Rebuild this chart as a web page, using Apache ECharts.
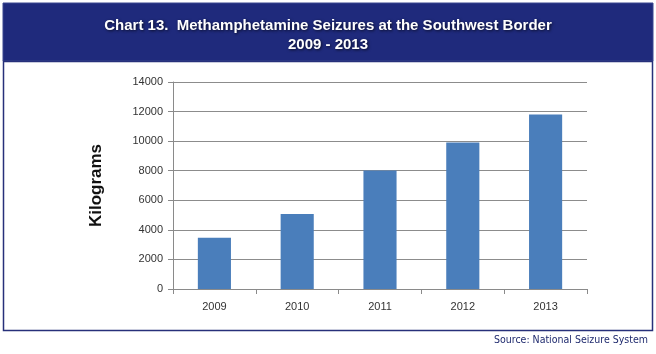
<!DOCTYPE html>
<html>
<head>
<meta charset="utf-8">
<script src="https://cdn.jsdelivr.net/npm/echarts@6/dist/echarts.min.js"></script>
<style>
  html, body { margin: 0; padding: 0; background: #fff; }
  #chart { width: 656px; height: 354px; }
</style>
</head>
<body>
<div id="chart"></div>
<script>
var years = ['2009', '2010', '2011', '2012', '2013'];
var seizures = [3470, 5070, 8020, 9900, 11800];
var yTicks = [0, 2000, 4000, 6000, 8000, 10000, 12000, 14000];

var chart = echarts.init(document.getElementById('chart'));

var option = {
  animation: false,
  backgroundColor: '#ffffff',
  graphic: [
    // navy header band
    { type: 'rect', shape: { x: 3, y: 3, width: 650, height: 58 },
      style: { fill: '#1f2a7c', stroke: '#3b4690', lineWidth: 1 }, z: -1 },
    // outline of chart box
    { type: 'rect', shape: { x: 3.5, y: 61.5, width: 649, height: 269 },
      style: { fill: 'none', stroke: '#27307a', lineWidth: 1.5 }, z: -1 },
    { type: 'text', right: 8, top: 335,
      style: { text: 'Source: National Seizure System', fill: '#1f2a6e',
        font: '10.5px "DejaVu Sans Condensed", "Liberation Sans Narrow", sans-serif' } }
  ],
  title: {
    text: 'Chart 13.  Methamphetamine Seizures at the Southwest Border\n2009 - 2013',
    left: 'center',
    top: 11,
    textStyle: {
      color: '#ffffff',
      fontFamily: '"Liberation Sans", Arial, sans-serif',
      fontWeight: 'bold',
      fontSize: 15,
      lineHeight: 19,
      textShadowColor: 'rgba(0,0,0,0.7)',
      textShadowBlur: 3,
      textShadowOffsetX: 1,
      textShadowOffsetY: 1
    }
  },
  grid: { left: 173, right: 69, top: 82, bottom: 65 },
  xAxis: {
    type: 'category',
    data: years,
    axisLine: { lineStyle: { color: '#8a8a8a' } },
    axisTick: { show: true, alignWithLabel: false, length: 5, lineStyle: { color: '#8a8a8a' } },
    axisLabel: { color: '#333', fontSize: 11, fontFamily: 'Arial, "Liberation Sans", sans-serif', margin: 12 }
  },
  yAxis: {
    type: 'value',
    min: 0,
    max: 14000,
    interval: 2000,
    name: 'Kilograms',
    nameLocation: 'middle',
    nameGap: 68,
    nameTextStyle: { color: '#111', fontSize: 17, fontWeight: 'bold', fontFamily: 'Arial, "Liberation Sans", sans-serif' },
    axisLine: { show: true, lineStyle: { color: '#8a8a8a' } },
    axisTick: { show: true, length: 5, lineStyle: { color: '#8a8a8a' } },
    axisLabel: {
      color: '#333', fontSize: 11, fontFamily: 'Arial, "Liberation Sans", sans-serif', margin: 10,
      customValues: yTicks,
      formatter: function (v) { return String(v); }
    },
    splitLine: { lineStyle: { color: '#8c8c8c', width: 1 } }
  },
  series: [{
    type: 'bar',
    data: seizures,
    barWidth: '40%',
    itemStyle: { color: '#4a7ebb' }
  }]
};

chart.setOption(option);
</script>
</body>
</html>
